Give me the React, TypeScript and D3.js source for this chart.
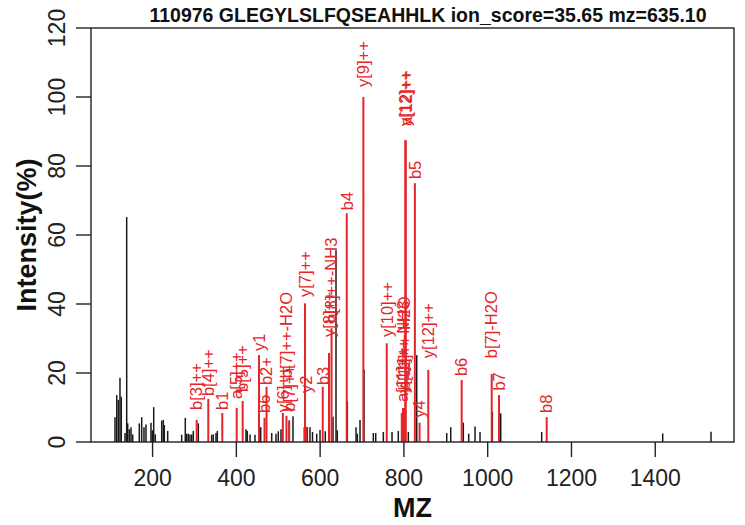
import React from "react";
import * as d3 from "d3";

const W = 745;
const H = 525;

const titleText = "110976 GLEGYLSLFQSEAHHLK ion_score=35.65 mz=635.10";
const xTicks = [200, 400, 600, 800, 1000, 1200, 1400];
const yTicks = [0, 20, 40, 60, 80, 100, 120];

// unmatched (black) peaks
const blackMz = [
  110.3, 114.4, 118.2, 122.2, 125.3, 134.2, 138.2, 140.6, 144.4, 148.5, 152.5,
  168.3, 174.0, 179.5, 184.3, 196.2, 199.3, 202.7, 206.5, 221.8, 225.6, 228.0,
  236.1, 269.5, 278.1, 281.5, 285.3, 289.3, 293.4, 297.2, 309.2, 341.1, 345.0,
  351.4, 354.5, 423.0, 426.1, 432.6, 444.5, 458.1, 484.4, 494.6, 500.1, 506.6,
  526.4, 535.2, 562.2, 569.4, 575.8, 581.8, 591.8, 599.7, 612.3, 630.7, 637.9,
  641.0, 664.9, 685.7, 688.8, 695.2, 704.8, 727.0, 732.7, 750.9, 771.6, 786.6,
  798.6, 810.5, 830.6, 902.2, 911.8, 941.8, 954.7, 969.8, 981.7, 1011.1, 1031.1,
  1128.9, 1417.8, 1533.1,
];
const blackInt = [
  7.2, 13.6, 12.2, 18.6, 13.1, 2.6, 65.2, 5.4, 3.7, 4.3, 2.2,
  5.4, 7.2, 4.3, 5.1, 5.6, 3.4, 10.1, 2.2, 6.2, 6.4, 4.9,
  3.2, 2.1, 7.0, 2.4, 2.4, 2.2, 2.2, 3.2, 5.4, 2.1, 2.2,
  2.6, 3.2, 3.7, 3.2, 2.2, 2.1, 4.3, 2.6, 2.4, 3.1, 3.7,
  6.3, 7.5, 4.3, 4.3, 4.3, 2.9, 2.4, 3.5, 3.1, 7.3, 55.6,
  3.4, 11.7, 4.3, 2.4, 6.4, 21.0, 2.6, 2.6, 2.9, 2.9, 3.2,
  9.8, 2.9, 25.2, 2.6, 4.3, 5.6, 2.4, 4.5, 2.9, 8.8, 8.3,
  2.9, 2.5, 3.0,
];

// matched (red) peaks with their annotation and the height where the label starts
const redMz = [
  305.3, 333.0, 366.4, 400.8, 415.1, 454.1, 467.2, 472.0, 511.0, 519.6, 526.0,
  563.9, 567.5, 606.2, 621.2, 627.2, 663.5, 703.2, 759.0, 794.9, 797.8, 800.9,
  803.3, 804.4, 826.2, 837.4, 858.2, 937.9, 1009.6, 1027.0, 1140.9,
];
const redInt = [
  6.4, 12.5, 8.4, 9.9, 11.9, 25.2, 7.0, 16.0, 8.4, 7.6, 5.9,
  40.2, 4.4, 16.0, 25.8, 33.0, 66.3, 100.0, 28.6, 8.4, 9.8, 9.8,
  87.5, 87.5, 75.0, 5.6, 20.9, 18.0, 19.7, 13.6, 7.2,
];
const redLabel = [
  "b[3]++", "b[4]++", "b1", "a[5]++", "b[5]++", "y1", "b6", "b2+", "y[6]++", "b[7]++-H2O", "b[7]++",
  "y[7]++", "y2", "b3", "y[8]++", "b[8]++-NH3", "b4", "y[9]++", "y[10]++", "a[11]++", "y[11]++-NH3", "b[11]++-H2O",
  "y[12]++", "a[12]++", "b5", "y4", "y[12]++", "b6", "b[7]-H2O", "b7", "b8",
];
const redLabelAt = [
  9.3, 13.3, 9.3, 12.5, 14.5, 26.4, 8.4, 16.5, 8.6, 18.5, 8.8,
  42.0, 14.2, 16.5, 30.4, 34.5, 67.2, 102.9, 30.4, 11.6, 14.2, 15.0,
  91.6, 91.6, 76.2, 7.0, 24.3, 19.1, 24.3, 14.9, 8.4,
];

const FONT = "'Liberation Sans', Arial, Helvetica, sans-serif";
const RED = "#e3262a";

export default function App() {
  const left = 91, right = 734, top = 28, bottom = 442;
  const x = d3.scaleLinear().domain([53, 1588]).range([left, right]);
  const y = d3.scaleLinear().domain([0, 120]).range([bottom, top]);

  const black = blackMz.map((m, i) => ({ m, v: blackInt[i] }));
  const red = redMz.map((m, i) => ({ m, v: redInt[i], label: redLabel[i], at: redLabelAt[i] }));

  return (
    <svg width={W} height={H} style={{ position: "absolute", left: 0, top: 0, background: "#fff" }} fontFamily={FONT}>
      <rect x={0} y={0} width={W} height={H} fill="#fff" />
      <text x={428} y={22} textAnchor="middle" fontSize={19.5} fontWeight="bold" fill="#111">
        {titleText}
      </text>
      {black.map((d, i) => (
        <line key={"k" + i} x1={x(d.m)} x2={x(d.m)} y1={y(0)} y2={y(d.v)} stroke="#1a1a1a" strokeWidth={1.5} />
      ))}
      {red.map((d, i) => (
        <line key={"r" + i} x1={x(d.m)} x2={x(d.m)} y1={y(0)} y2={y(d.v)} stroke={RED} strokeWidth={2} />
      ))}
      {red.map((d, i) => (
        <text
          key={"t" + i}
          transform={`translate(${x(d.m)},${y(d.at)}) rotate(-90)`}
          dy="0.35em"
          fontSize={16.5}
          fill={RED}
        >
          {d.label}
        </text>
      ))}
      <rect x={left} y={top} width={right - left} height={bottom - top} fill="none" stroke="#222" strokeWidth={1.4} />
      {xTicks.map((t) => (
        <g key={"x" + t}>
          <line x1={x(t)} x2={x(t)} y1={bottom} y2={bottom + 15} stroke="#222" strokeWidth={1.4} />
          <text x={x(t)} y={486} textAnchor="middle" fontSize={23} fill="#222">
            {t}
          </text>
        </g>
      ))}
      {yTicks.map((t) => (
        <g key={"y" + t}>
          <line x1={left - 15} x2={left} y1={y(t)} y2={y(t)} stroke="#222" strokeWidth={1.4} />
          <text transform={`translate(65,${y(t)}) rotate(-90)`} textAnchor="middle" fontSize={23} fill="#222">
            {t}
          </text>
        </g>
      ))}
      <text x={(left + right) / 2} y={517} textAnchor="middle" fontSize={27} fontWeight="bold" fill="#111">
        MZ
      </text>
      <text transform={`translate(36,${(top + bottom) / 2}) rotate(-90)`} textAnchor="middle" fontSize={27} fontWeight="bold" fill="#111">
        Intensity(%)
      </text>
    </svg>
  );
}
